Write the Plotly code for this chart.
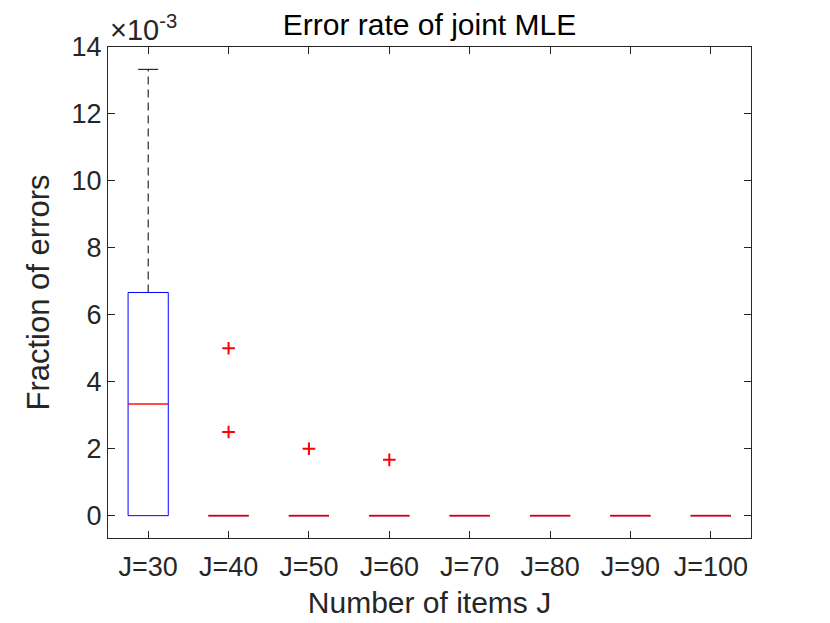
import plotly.graph_objects as go

categories = ["J=30", "J=40", "J=50", "J=60", "J=70", "J=80", "J=90", "J=100"]
q1 = [0, 0, 0, 0, 0, 0, 0, 0]
median = [3.333e-3, 0, 0, 0, 0, 0, 0, 0]
q3 = [6.667e-3, 0, 0, 0, 0, 0, 0, 0]
whisk_lo = [0, 0, 0, 0, 0, 0, 0, 0]
whisk_hi = [13.333e-3, 0, 0, 0, 0, 0, 0, 0]
outliers = [[], [5.0e-3, 2.5e-3], [2.0e-3], [1.667e-3], [], [], [], []]

ytick_vals = [0, 2e-3, 4e-3, 6e-3, 8e-3, 10e-3, 12e-3, 14e-3]
ytick_text = ["0", "2", "4", "6", "8", "10", "12", "14"]

BW = 0.25   # half box width
CW = 0.125  # half cap width
FONT = "Liberation Sans, Arial, Helvetica, sans-serif"
AX = "#262626"

pos = list(range(1, len(categories) + 1))

wx, wy, cx, cy, bx, by, mx, my, ox, oy = [], [], [], [], [], [], [], [], [], []
for i, p in enumerate(pos):
    if whisk_hi[i] > q3[i]:
        wx += [p, p, None]; wy += [q3[i], whisk_hi[i], None]
        cx += [p - CW, p + CW, None]; cy += [whisk_hi[i], whisk_hi[i], None]
    if whisk_lo[i] < q1[i]:
        wx += [p, p, None]; wy += [whisk_lo[i], q1[i], None]
        cx += [p - CW, p + CW, None]; cy += [whisk_lo[i], whisk_lo[i], None]
    bx += [p - BW, p + BW, p + BW, p - BW, p - BW, None]
    by += [q1[i], q1[i], q3[i], q3[i], q1[i], None]
    mx += [p - BW, p + BW, None]; my += [median[i], median[i], None]
    for o in outliers[i]:
        ox.append(p); oy.append(o)

fig = go.Figure()
fig.add_trace(go.Scatter(x=wx, y=wy, mode="lines", line=dict(color="black", width=1, dash="8px,5px"), hoverinfo="skip"))
fig.add_trace(go.Scatter(x=cx, y=cy, mode="lines", line=dict(color="black", width=1), hoverinfo="skip"))
fig.add_trace(go.Scatter(x=bx, y=by, mode="lines", line=dict(color="blue", width=1), hoverinfo="skip"))
fig.add_trace(go.Scatter(x=mx, y=my, mode="lines", line=dict(color="rgba(255,0,0,0.7)", width=2), hoverinfo="skip"))
fig.add_trace(go.Scatter(x=ox, y=oy, mode="markers",
                         marker=dict(symbol="cross-thin", size=9, line=dict(color="red", width=2), color="red"),
                         hoverinfo="skip"))

fig.update_layout(
    width=830, height=623,
    margin=dict(l=100, r=87, t=39, b=93),
    paper_bgcolor="white", plot_bgcolor="white",
    showlegend=False,
    font=dict(family=FONT, color=AX, size=27),
    title=dict(text="Error rate of joint MLE", xref="paper", x=0.5, xanchor="center",
               y=1 - 16 / 623, yanchor="middle",
               font=dict(family=FONT, size=30, color="black")),
)
fig.update_xaxes(
    range=[0.5, len(categories) + 0.5], tickvals=pos, ticktext=categories,
    showline=True, linecolor=AX, linewidth=1, mirror="allticks",
    ticks="inside", ticklen=7, tickcolor=AX, showgrid=False, zeroline=False,
    tickfont=dict(size=27, color=AX), ticklabelstandoff=5,
    title=dict(text="Number of items J", font=dict(size=30, color=AX), standoff=10),
)
fig.update_yaxes(
    range=[-0.667e-3, 14e-3], tickvals=ytick_vals, ticktext=ytick_text,
    showline=True, linecolor=AX, linewidth=1, mirror="allticks",
    ticks="inside", ticklen=7, tickcolor=AX, showgrid=False, zeroline=False,
    tickfont=dict(size=27, color=AX),
    title=dict(text="Fraction of errors", font=dict(size=31, color=AX), standoff=12),
)
fig.add_annotation(xref="paper", yref="paper", x=0, y=1.0, xanchor="left", yanchor="bottom",
                   text="×10<sup>-3</sup>", showarrow=False, yshift=-1, xshift=0,
                   font=dict(family=FONT, size=29, color=AX))

fig.write_html("out.html")
